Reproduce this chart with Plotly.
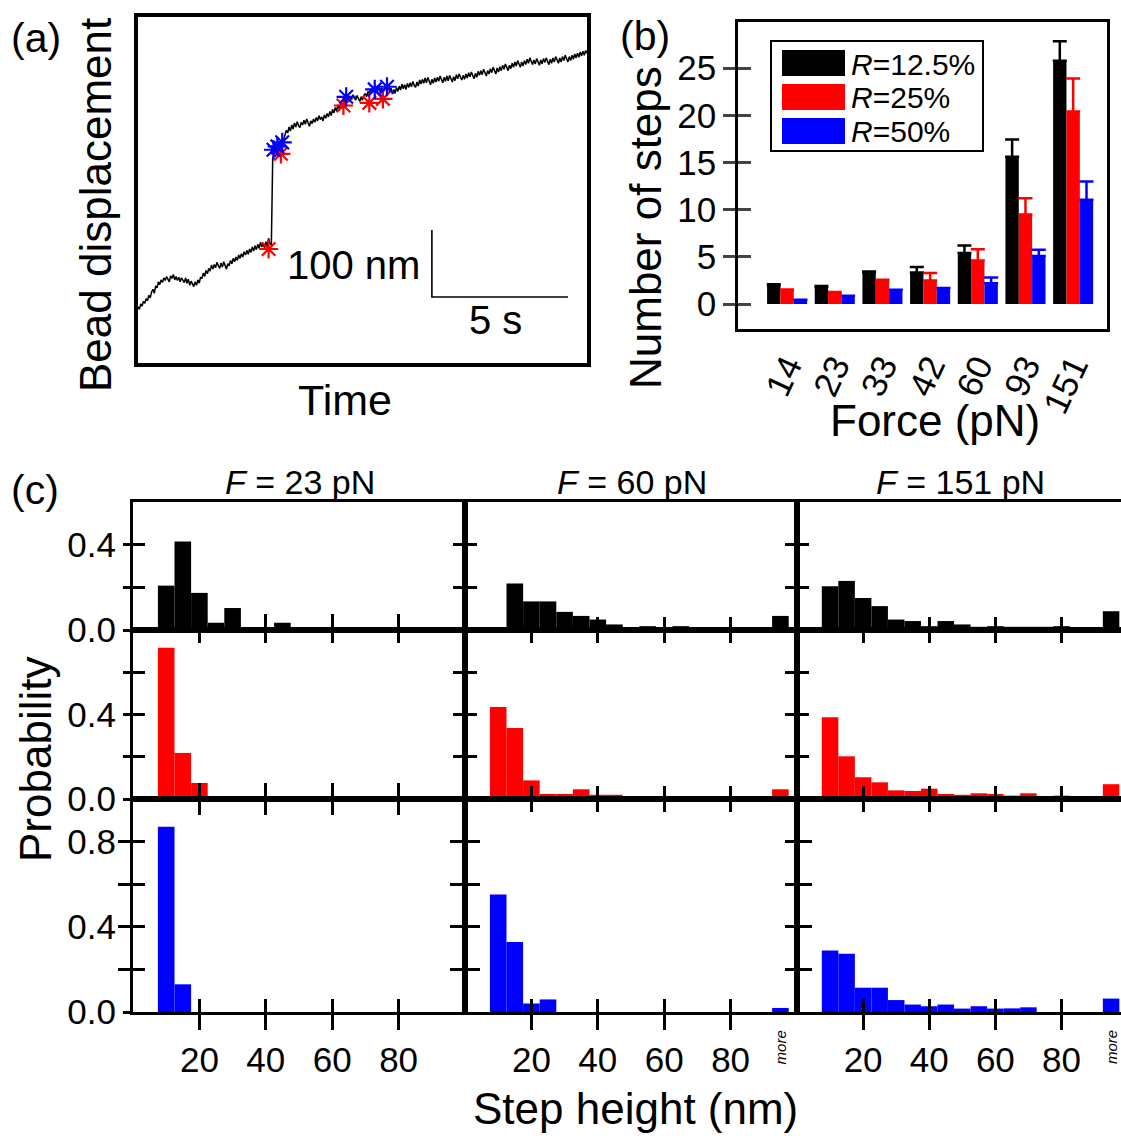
import plotly.graph_objects as go

W, H = 1121, 1136
FONT = "Liberation Sans, Arial, sans-serif"


def px(x):
    return x / W


def py(y):
    return 1 - y / H


# ---------------- Panel (a): bead displacement trace ----------------
TRACE_DT = 0.05  # s between samples
TRACE_NM = [
    84, 80, 88, 85, 92, 89, 96, 93, 101, 97, 106, 110, 104, 115, 112, 121, 117, 124, 120, 127,
    123, 129, 125, 121, 130, 126, 132, 124, 129, 123, 128, 121, 127, 124, 120, 127, 119, 125, 116, 122,
    118, 114, 121, 116, 124, 119, 128, 126, 134, 129, 138, 133, 141, 137, 146, 140, 147, 142, 150, 144,
    141, 149, 143, 151, 146, 140, 148, 145, 153, 148, 156, 151, 158, 153, 161, 156, 163, 158, 166, 161,
    168, 162, 170, 165, 173, 167, 175, 169, 177, 171, 180, 173, 178, 172, 181, 174, 186, 178, 176,
    305, 311, 308, 316, 313, 320, 317, 326, 333, 340, 347, 343, 352, 346, 355, 349, 358, 352, 360, 354,
    351, 359, 355, 362, 356, 364, 358, 353, 361, 357, 364, 359, 366, 361, 369, 363, 367, 361, 370, 365,
    372, 367, 375, 369, 378, 373, 381, 376, 385, 379, 388, 383, 386, 392, 387, 394, 389, 398, 393, 400,
    395, 392, 399, 394, 390, 397, 392, 399, 402, 397, 405, 401, 409, 404, 412, 406, 413, 407, 411, 404,
    410, 403, 409, 412, 406, 414, 403, 410, 401, 408, 402, 411, 405, 413, 407, 416, 409, 415, 408, 417,
    411, 418, 412, 420, 414, 411, 419, 413, 422, 416, 423, 417, 425, 418, 426, 420, 415, 423, 417, 425,
    419, 426, 420, 428, 422, 418, 426, 420, 428, 421, 429, 423, 419, 427, 421, 430, 424, 431, 425, 422,
    429, 423, 431, 425, 433, 427, 434, 428, 424, 432, 426, 435, 429, 436, 430, 438, 432, 428, 436, 431,
    439, 433, 441, 435, 431, 440, 434, 442, 436, 444, 438, 446, 440, 436, 444, 439, 447, 441, 449, 443,
    451, 445, 441, 449, 443, 451, 445, 453, 447, 455, 449, 445, 452, 446, 454, 448, 444, 452, 446, 454,
    448, 455, 449, 445, 453, 447, 455, 449, 457, 451, 447, 455, 449, 457, 451, 459, 453, 449, 457, 451,
    459, 453, 461, 455, 462, 456, 464, 458, 465, 459, 466, 462,
]
TRACE_T = [i * TRACE_DT for i in range(len(TRACE_NM))]
RED_STEP_T = [4.8, 5.25, 7.55, 8.5, 9.0]
RED_STEP_NM = [170, 312, 384, 388, 394]
BLUE_STEP_T = [4.98, 5.12, 5.3, 7.65, 8.7, 9.15]
BLUE_STEP_NM = [318, 323, 329, 397, 408, 412]
SCALE_T0, SCALE_NM0 = 10.8, 98.5
SCALE_LEN_NM, SCALE_LEN_S = 100, 5

# ---------------- Panel (b): number of steps ----------------
FORCES = ["14", "23", "33", "42", "60", "93", "151"]
R_NAMES = ["12.5%", "25%", "50%"]
STEPS_R125 = [2.0, 1.8, 3.35, 3.35, 5.4, 15.6, 25.8]
STEPS_R25 = [1.45, 1.17, 2.47, 2.5, 4.6, 9.5, 20.4]
STEPS_R50 = [0.46, 0.88, 1.5, 1.7, 2.2, 5.1, 11.05]
ERR_R125 = [0.1, 0.1, 0.1, 0.57, 0.8, 1.85, 2.05]
ERR_R25 = [0.1, 0.1, 0.1, 0.78, 1.2, 1.7, 3.5]
ERR_R50 = [0.0, 0.0, 0.0, 0.0, 0.6, 0.65, 1.95]
COLORS = ["#000000", "#ff0000", "#0000ff"]

# ---------------- Panel (c): step height histograms ----------------
STEP_BINS = [10, 15, 20, 25, 30, 35, 40, 45, 50, 55, 60, 65, 70, 75, 80, 85, 90, 95]  # 95 = "more"
HIST_FORCES = ["23", "60", "151"]
P_R125_F23 = [0.208, 0.415, 0.174, 0.034, 0.103, 0, 0, 0.034, 0, 0, 0, 0, 0, 0, 0, 0, 0, 0]
P_R125_F60 = [0, 0.218, 0.134, 0.134, 0.085, 0.066, 0.049, 0.026, 0.008, 0.018, 0.005, 0.018, 0.003, 0.011, 0.002, 0, 0, 0.066]
P_R125_F151 = [0.205, 0.23, 0.15, 0.112, 0.049, 0.042, 0.018, 0.042, 0.026, 0.015, 0.018, 0.015, 0.015, 0.015, 0.018, 0.008, 0, 0.088]
P_R25_F23 = [0.716, 0.218, 0.076, 0, 0, 0, 0, 0, 0, 0, 0, 0, 0, 0, 0, 0, 0, 0]
P_R25_F60 = [0.436, 0.336, 0.088, 0.024, 0.024, 0.046, 0.02, 0.02, 0, 0, 0, 0, 0, 0, 0, 0, 0, 0.046]
P_R25_F151 = [0.387, 0.202, 0.103, 0.079, 0.041, 0.038, 0.049, 0.024, 0.02, 0.027, 0.024, 0.016, 0.027, 0.013, 0.016, 0, 0, 0.07]
P_R50_F23 = [0.87, 0.13, 0, 0, 0, 0, 0, 0, 0, 0, 0, 0, 0, 0, 0, 0, 0, 0]
P_R50_F60 = [0.552, 0.329, 0.04, 0.059, 0, 0, 0, 0, 0, 0, 0, 0, 0, 0, 0, 0, 0, 0.019]
P_R50_F151 = [0.289, 0.273, 0.114, 0.114, 0.056, 0.035, 0.027, 0.035, 0.016, 0.027, 0.016, 0.017, 0.022, 0, 0, 0, 0, 0.063]
HIST_ROWS = [
    [P_R125_F23, P_R125_F60, P_R125_F151],
    [P_R25_F23, P_R25_F60, P_R25_F151],
    [P_R50_F23, P_R50_F60, P_R50_F151],
]
ROW_YMAX = [0.6, 0.8, 1.0]
ROW_TICKS = [[0, 0.2, 0.4], [0, 0.2, 0.4, 0.6], [0, 0.2, 0.4, 0.6, 0.8]]
X_TICKS = [20, 40, 60, 80]

TICK_FONT = 35
TITLE_FONT = 44

fig = go.Figure()
layout = dict(
    width=W, height=H, margin=dict(l=0, r=0, t=0, b=0, autoexpand=False),
    paper_bgcolor="white", plot_bgcolor="white",
    font=dict(family=FONT, color="black", size=TICK_FONT),
    showlegend=False, barmode="group", bargap=0.16, bargroupgap=0,
)
annotations = []
shapes = []

# ---- Panel (a)
layout["xaxis"] = dict(domain=[px(138), px(587)], range=[0, 16.5], showline=True, mirror=True,
                       linewidth=4, linecolor="black", ticks="", showticklabels=False,
                       showgrid=False, zeroline=False, anchor="y")
layout["yaxis"] = dict(domain=[py(363), py(17)], range=[0, 516], showline=True, mirror=True,
                       linewidth=4, linecolor="black", ticks="", showticklabels=False,
                       showgrid=False, zeroline=False, anchor="x")
fig.add_trace(go.Scatter(x=TRACE_T, y=TRACE_NM, mode="lines", line=dict(color="black", width=1.5),
                         xaxis="x", yaxis="y", name="trace"))
fig.add_trace(go.Scatter(x=RED_STEP_T, y=RED_STEP_NM, mode="markers", xaxis="x", yaxis="y",
                         marker=dict(symbol="asterisk-open", size=16, color="#ff0000",
                                     line=dict(color="#ff0000", width=2.2)),
                         name="red steps"))
fig.add_trace(go.Scatter(x=BLUE_STEP_T, y=BLUE_STEP_NM, mode="markers", xaxis="x", yaxis="y",
                         marker=dict(symbol="asterisk-open", size=16, color="#0000ff",
                                     line=dict(color="#0000ff", width=2.2)),
                         name="blue steps"))
fig.add_trace(go.Scatter(x=[SCALE_T0, SCALE_T0, SCALE_T0 + SCALE_LEN_S],
                         y=[SCALE_NM0 + SCALE_LEN_NM, SCALE_NM0, SCALE_NM0],
                         mode="lines", line=dict(color="black", width=1.6), xaxis="x", yaxis="y",
                         name="scale bar"))
annotations.append(dict(x=SCALE_T0 - 0.35, y=SCALE_NM0 + 0.48 * SCALE_LEN_NM, xref="x", yref="y",
                        text=f"{SCALE_LEN_NM} nm", showarrow=False, xanchor="right", yanchor="middle",
                        font=dict(size=40)))
annotations.append(dict(x=SCALE_T0 + 0.47 * SCALE_LEN_S, y=SCALE_NM0 - 34, xref="x", yref="y",
                        text=f"{SCALE_LEN_S} s", showarrow=False, xanchor="center", yanchor="middle",
                        font=dict(size=40)))

# ---- Panel (b)
b_range = [-2.65, 29.9]
layout["xaxis2"] = dict(domain=[px(738), px(1107)], range=[-1.03, 6.71], anchor="y2",
                        tickvals=list(range(len(FORCES))), ticktext=FORCES, tickangle=-65,
                        ticks="", showline=True, mirror=True, linewidth=2.5, linecolor="black",
                        showgrid=False, zeroline=False, tickfont=dict(size=TICK_FONT))
layout["yaxis2"] = dict(domain=[py(329), py(22)], range=b_range, anchor="x2",
                        tickvals=[0, 5, 10, 15, 20, 25], ticks="outside", ticklen=12, tickwidth=2.5,
                        showline=True, mirror=True, linewidth=2.5, linecolor="black",
                        showgrid=False, zeroline=False, tickfont=dict(size=TICK_FONT))
layout["yaxis3"] = dict(overlaying="y2", anchor="x2", side="left", range=b_range,
                        tickvals=[0, 5, 10, 15, 20, 25], ticks="inside", ticklen=13, tickwidth=2.5,
                        showticklabels=False, showline=False, showgrid=False, zeroline=False)
series_b = [(STEPS_R125, ERR_R125), (STEPS_R25, ERR_R25), (STEPS_R50, ERR_R50)]
for k, (vals, errs) in enumerate(series_b):
    fig.add_trace(go.Bar(x=list(range(len(FORCES))), y=vals, xaxis="x2", yaxis="y2",
                         name="R=" + R_NAMES[k], marker=dict(color=COLORS[k], line=dict(width=0)),
                         error_y=dict(type="data", symmetric=False, array=errs,
                                      arrayminus=[0] * len(errs), color=COLORS[k],
                                      thickness=2.5, width=7)))
fig.add_trace(go.Scatter(x=[None], y=[None], xaxis="x2", yaxis="y3", showlegend=False))

# legend box for (b)
shapes.append(dict(type="rect", xref="paper", yref="paper", x0=px(771), x1=px(983),
                   y0=py(151), y1=py(41), line=dict(color="black", width=2), fillcolor="white"))
for k in range(3):
    yc = 63 + 34 * k
    shapes.append(dict(type="rect", xref="paper", yref="paper", x0=px(782), x1=px(845),
                       y0=py(yc + 13), y1=py(yc - 13), line=dict(width=0), fillcolor=COLORS[k]))
    annotations.append(dict(x=px(849), y=py(yc + 1), xref="paper", yref="paper",
                            text="<i>R</i>=" + R_NAMES[k], showarrow=False,
                            xanchor="left", yanchor="middle", font=dict(size=30)))

# ---- Panel (c)
rows_px = [(502, 630), (630, 799), (799, 1012)]
cols_px = [(133, 465), (465, 797), (797, 1121)]
for r in range(3):
    for c in range(3):
        i = 4 + 3 * r + c
        xmax = 100 if c < 2 else 98
        layout[f"xaxis{i}"] = dict(domain=[px(cols_px[c][0]), px(cols_px[c][1])], range=[0, xmax],
                                   anchor=f"y{i}", tickvals=X_TICKS, showticklabels=False,
                                   ticks="inside", ticklen=13, tickwidth=2.5, tickcolor="black",
                                   showline=True, linewidth=2.5, linecolor="black",
                                   mirror=("allticks" if r > 0 else True),
                                   showgrid=False, zeroline=False)
        layout[f"yaxis{i}"] = dict(domain=[py(rows_px[r][1]), py(rows_px[r][0])],
                                   range=[0, ROW_YMAX[r]], anchor=f"x{i}",
                                   tickvals=ROW_TICKS[r], showticklabels=False,
                                   ticks="inside", ticklen=12, tickwidth=2.5, tickcolor="black",
                                   showline=True, linewidth=2.5, linecolor="black",
                                   mirror=("allticks" if c < 2 else False),
                                   showgrid=False, zeroline=False)
        fig.add_trace(go.Bar(x=STEP_BINS, y=HIST_ROWS[r][c], width=5,
                             xaxis=f"x{i}", yaxis=f"y{i}",
                             marker=dict(color=COLORS[r], line=dict(width=0)),
                             name=f"R={R_NAMES[r]}, F={HIST_FORCES[c]} pN"))
    # left column: outside ticks + labels via overlay axis
    base = 4 + 3 * r
    j = 16 + r
    yt = ROW_TICKS[r]
    layout[f"yaxis{j}"] = dict(overlaying=f"y{base}", anchor=f"x{base}", side="left",
                               range=[0, ROW_YMAX[r]], tickvals=yt,
                               ticktext=[f"{v:.1f}" if k % 2 == 0 else "" for k, v in enumerate(yt)],
                               ticks="outside", ticklen=9, tickwidth=2.5, tickcolor="black",
                               showline=False, showgrid=False, zeroline=False,
                               tickfont=dict(size=TICK_FONT))
    fig.add_trace(go.Scatter(x=[None], y=[None], xaxis=f"x{base}", yaxis=f"y{j}", showlegend=False))

# bottom row: outside ticks + labels via overlay axes
for c in range(3):
    base = 10 + c
    j = 13 + c
    xmax = 100 if c < 2 else 98
    layout[f"xaxis{j}"] = dict(overlaying=f"x{base}", anchor=f"y{base}", side="bottom",
                               range=[0, xmax], tickvals=X_TICKS,
                               ticktext=[str(v) for v in X_TICKS],
                               ticks="outside", ticklen=17, tickwidth=2.5, tickcolor="black",
                               showline=False, showgrid=False, zeroline=False,
                               tickfont=dict(size=TICK_FONT))
    fig.add_trace(go.Scatter(x=[None], y=[None], xaxis=f"x{j}", yaxis=f"y{base}", showlegend=False))
    if c > 0:
        annotations.append(dict(x=STEP_BINS[-1], y=py(1047), xref=f"x{base}", yref="paper",
                                text="<i>more</i>", textangle=-90, showarrow=False,
                                xanchor="center", yanchor="middle", font=dict(size=15)))

for c in range(3):
    xc = (cols_px[c][0] + cols_px[c][1]) / 2 + 1
    annotations.append(dict(x=px(xc), y=py(482), xref="paper", yref="paper",
                            text=f"<i>F</i> = {HIST_FORCES[c]} pN", showarrow=False,
                            xanchor="center", yanchor="middle", font=dict(size=34)))


# ---- titles and panel labels
def label(text, x, y, size=TITLE_FONT, angle=0):
    annotations.append(dict(x=px(x), y=py(y), xref="paper", yref="paper", text=text,
                            showarrow=False, xanchor="center", yanchor="middle",
                            textangle=angle, font=dict(size=size)))


label("(a)", 36, 38, 41)
label("(b)", 645, 36, 41)
label("(c)", 35, 490, 41)
label("Bead displacement", 95, 205, TITLE_FONT, -90)
label("Time", 345, 400, 43)
label("Number of steps", 645, 228, TITLE_FONT, -90)
label("Force (pN)", 935, 420, TITLE_FONT)
label("Probability", 35, 760, TITLE_FONT, -90)
label("Step height (nm)", 635, 1108, TITLE_FONT)

layout["annotations"] = annotations
layout["shapes"] = shapes
fig.update_layout(**layout)

PAGE_CSS_JS = (
    "var de=document.documentElement, b=document.body;"
    "de.style.margin='0';de.style.padding='0';de.style.overflow='hidden';"
    "b.style.margin='0';b.style.padding='0';b.style.overflow='hidden';"
)
fig.write_html("out.html", config={"displayModeBar": False}, post_script=PAGE_CSS_JS)
